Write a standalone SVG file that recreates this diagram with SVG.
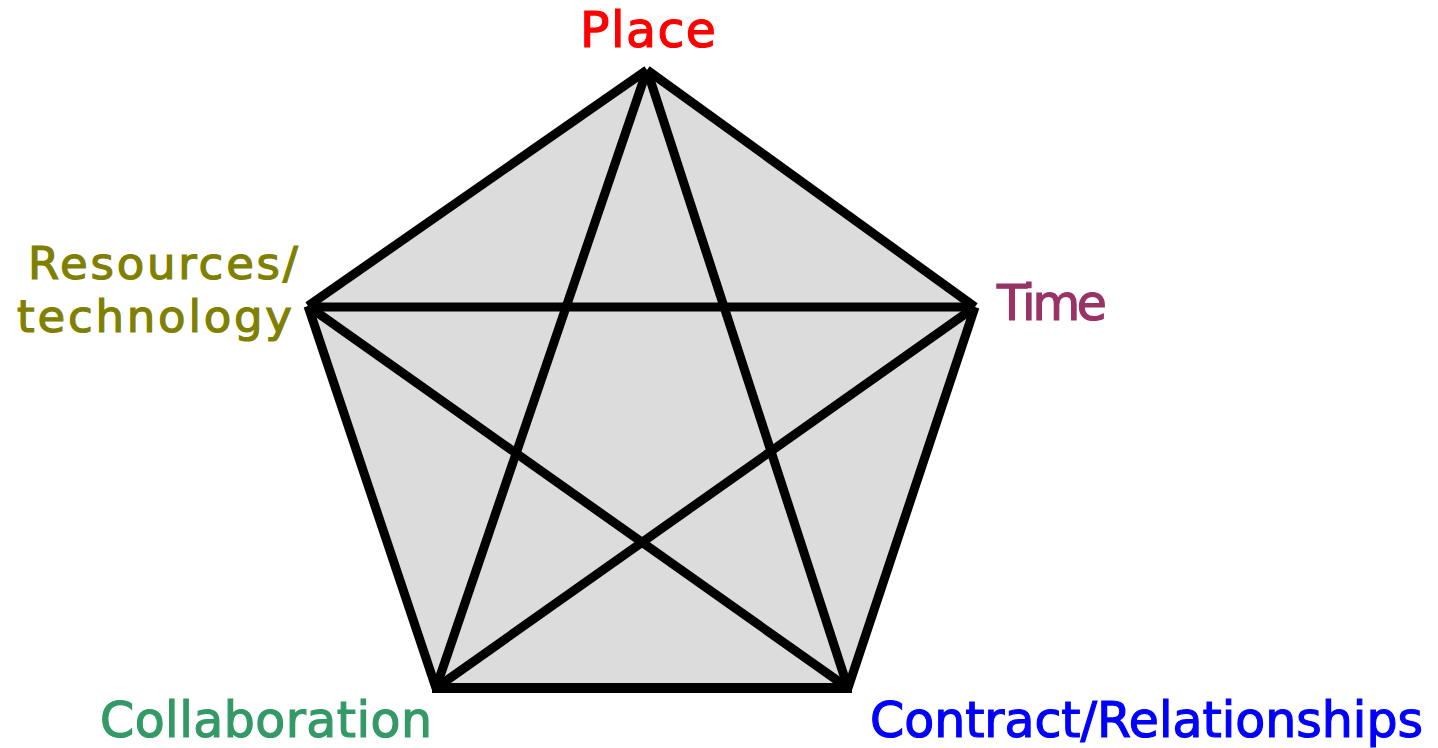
<svg xmlns="http://www.w3.org/2000/svg" width="1438" height="748" viewBox="0 0 1438 748">
<style>
.lbl{font-family:"DejaVu Sans","Liberation Sans",sans-serif;font-size:49px;stroke-width:1.2px;paint-order:stroke}
.edge{stroke:#000;stroke-width:9;stroke-linecap:butt;fill:none}
</style>
<rect width="1438" height="748" fill="#fff"/>
<polygon id="pentagon" points="647,70 975,307 848,688 436,688 308,306" fill="#dcdcdc"/>
<g id="connectors">
<line class="edge" x1="647" y1="70" x2="975" y2="307"/>
<line class="edge" x1="975" y1="307" x2="848" y2="688"/>
<line class="edge" x1="852" y1="688" x2="432" y2="688" style="stroke-width:10"/>
<line class="edge" x1="436" y1="688" x2="308" y2="306"/>
<line class="edge" x1="308" y1="306" x2="647" y2="70"/>
<line class="edge" x1="647" y1="70" x2="436" y2="688"/>
<line class="edge" x1="647" y1="70" x2="848" y2="688"/>
<line class="edge" x1="308" y1="307" x2="975" y2="307"/>
<line class="edge" x1="308" y1="306" x2="848" y2="688"/>
<line class="edge" x1="975" y1="307" x2="436" y2="688"/>
</g>
<g id="place"><text class="lbl" x="580" y="47" fill="#ff0000" stroke="#ff0000" textLength="136">Place</text></g>
<g id="time"><text class="lbl" x="997" y="320" fill="#993366" stroke="#993366" textLength="110">Time</text></g>
<g id="resources"><text class="lbl" x="28" y="279" fill="#808000" stroke="#808000" textLength="270" style="font-size:45px">Resources/</text><text class="lbl" x="17" y="332" fill="#808000" stroke="#808000" textLength="275" style="font-size:45px">technology</text></g>
<g id="collaboration"><text class="lbl" x="100" y="737" fill="#339966" stroke="#339966" textLength="332">Collaboration</text></g>
<g id="contract"><text class="lbl" x="870" y="737" fill="#0000ff" stroke="#0000ff" textLength="553">Contract/Relationships</text></g>
</svg>
